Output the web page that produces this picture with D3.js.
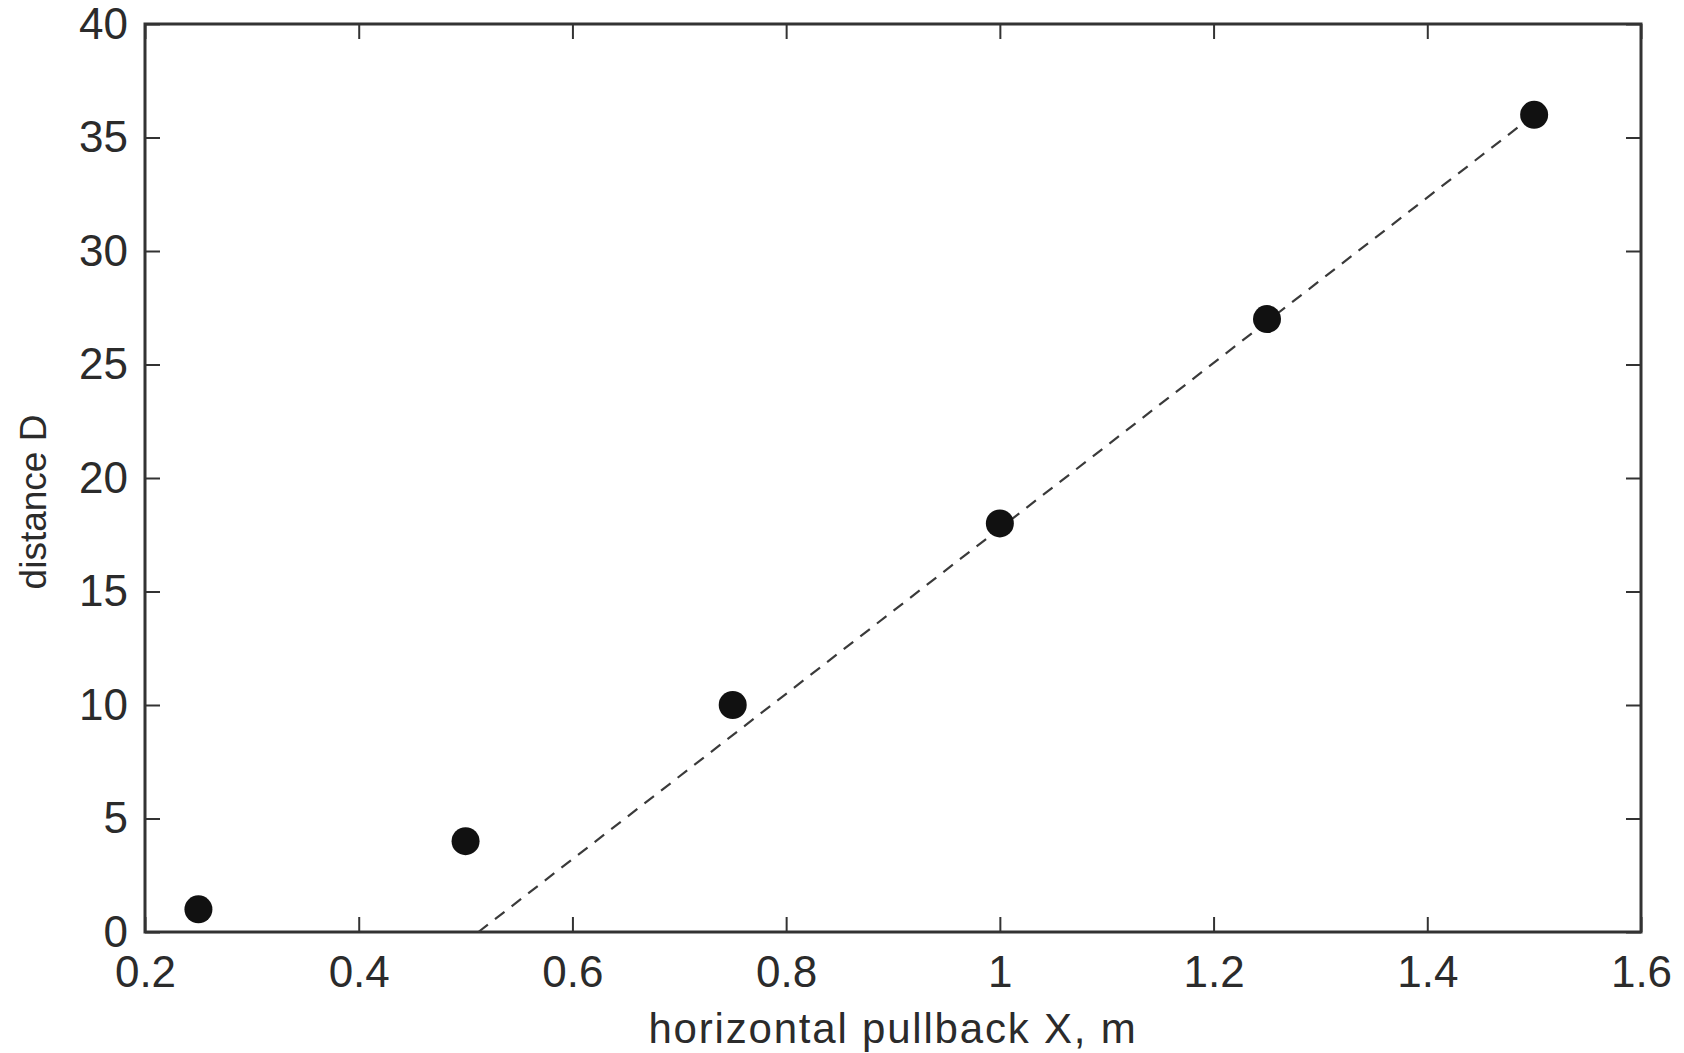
<!DOCTYPE html>
<html>
<head>
<meta charset="utf-8">
<script src="https://cdn.jsdelivr.net/npm/d3@7"></script>
<style>
  html, body { margin: 0; padding: 0; background: #fff; }
  svg { display: block; }
  text { font-family: "Liberation Sans", Arial, Helvetica, sans-serif; fill: #2b2b2b; }
</style>
</head>
<body>
<svg id="chart" width="1684" height="1053"></svg>
<script>
// Measured pullback vs. distance
const pullbackX = [0.25, 0.5, 0.75, 1.0, 1.25, 1.5];
const distanceD = [1, 4, 10, 18, 27, 36];

// Linear fit drawn as a dashed line (endpoints in data units)
const fitX = [0.512, 1.5];
const fitD = [0, 36];

const xTicks = [0.2, 0.4, 0.6, 0.8, 1.0, 1.2, 1.4, 1.6];
const yTicks = [0, 5, 10, 15, 20, 25, 30, 35, 40];

const m = { left: 145, right: 1641, top: 24, bottom: 932 };

const svg = d3.select("#chart");
const x = d3.scaleLinear().domain([0.2, 1.6]).range([m.left, m.right]);
const y = d3.scaleLinear().domain([0, 40]).range([m.bottom, m.top]);

const axisColor = "#333";
const tickLen = 15;
const fmtX = d => (d === 1 ? "1" : d3.format(".1f")(d));

// Frame
svg.append("rect")
  .attr("x", m.left).attr("y", m.top)
  .attr("width", m.right - m.left).attr("height", m.bottom - m.top)
  .attr("fill", "none").attr("stroke", axisColor).attr("stroke-width", 3);

// Axes with inward ticks on all four sides
function styleAxis(g) {
  g.select(".domain").remove();
  g.selectAll(".tick line").attr("stroke", axisColor).attr("stroke-width", 2);
  g.selectAll(".tick text").attr("font-size", 44).attr("fill", "#2b2b2b");
}

svg.append("g").attr("transform", `translate(0,${m.bottom})`)
  .call(d3.axisBottom(x).tickValues(xTicks).tickFormat(fmtX).tickSizeInner(-tickLen).tickSizeOuter(0).tickPadding(24))
  .call(styleAxis);

svg.append("g").attr("transform", `translate(0,${m.top})`)
  .call(d3.axisTop(x).tickValues(xTicks).tickFormat("").tickSizeInner(-tickLen).tickSizeOuter(0))
  .call(styleAxis);

svg.append("g").attr("transform", `translate(${m.left},0)`)
  .call(d3.axisLeft(y).tickValues(yTicks).tickSizeInner(-tickLen).tickSizeOuter(0).tickPadding(17))
  .call(styleAxis);

svg.append("g").attr("transform", `translate(${m.right},0)`)
  .call(d3.axisRight(y).tickValues(yTicks).tickFormat("").tickSizeInner(-tickLen).tickSizeOuter(0))
  .call(styleAxis);

// Fit line
svg.append("path")
  .datum(d3.zip(fitX, fitD))
  .attr("d", d3.line().x(d => x(d[0])).y(d => y(d[1])))
  .attr("fill", "none")
  .attr("stroke", "#3a3a3a")
  .attr("stroke-width", 2.2)
  .attr("stroke-dasharray", "12,9");

// Data points
svg.append("g").selectAll("circle")
  .data(d3.zip(pullbackX, distanceD))
  .join("circle")
  .attr("cx", d => x(d[0]))
  .attr("cy", d => y(d[1]))
  .attr("r", 14)
  .attr("fill", "#111");

// Axis titles
svg.append("text")
  .attr("x", (m.left + m.right) / 2)
  .attr("y", 1043)
  .attr("text-anchor", "middle")
  .attr("font-size", 42)
  .attr("letter-spacing", 1.8)
  .text("horizontal pullback X, m");

svg.append("text")
  .attr("transform", `translate(46,502) rotate(-90)`)
  .attr("text-anchor", "middle")
  .attr("font-size", 37)
  .text("distance D");
</script>
</body>
</html>
